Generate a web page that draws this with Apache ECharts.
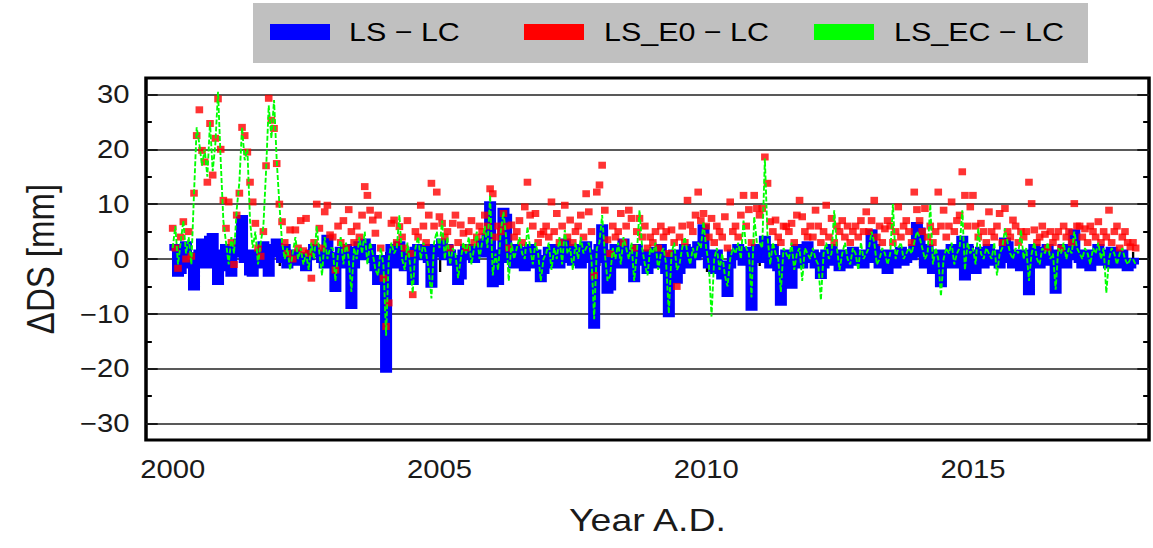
<!DOCTYPE html>
<html><head><meta charset="utf-8">
<script src="https://cdn.jsdelivr.net/npm/echarts@6/dist/echarts.min.js"></script>
<style>
html,body{margin:0;padding:0;background:#fff;overflow:hidden;width:1153px;height:548px}
#c{position:absolute;left:0;top:0;height:548px;transform-origin:0 0}
</style>
</head><body><div id="c"></div>
<script>
// sample times: T0 + i*DT (years A.D.)
const T0 = 2000, DT = 0.05;

// LS - LC (blue), one row per year, 20 samples per year
const lsLc = [
  1.5, 2, -2.5, -2, 1, 2.5, -1, 0.5, -5, -1, 1, 3, 2, -1, 3.5, 4, 0, -4, -1.5, 1,
  2, 0.5, -2.5, 1, 2, 3, 7.3, 0, 1, -2.3, -2.5, 0, 1, -1, 2.5, 0, -2.5, 1.5, 2, 3,
  1, 0, 2, -1, 0.5, 0, 1, -0.5, 0.5, 0, -1.5, 0.5, 1, 2, 1, 1, 0, -1, 3.7, 0.5,
  0.5, -5.3, -1, 1.5, 0, 2, -1, -8.4, -1, 1.5, 2.5, 0.5, 3, 1, 2, 0, -1.5, -4, 0, -1,
  -20, -1, 2, 1, -1, 2.5, 0.5, -1.5, 1, 0, -4, 1.5, 2, 0.5, 1, 2, 0, -4.5, 1, 2,
  1, 3, 0.5, 2, 1, -0.5, 0, -4, -3, 1, 2, 0.5, 1.5, 0, 2, 1, 3, 1, 4, 9.8,
  -4.4, -2, -4, 1, 8.6, 7.5, 0, 1, -1, 2, 0, 1.5, -1.5, 0.5, 2, -1, 1, 0, -3.5, -2,
  0, 1.5, -1, 2, 0.5, -1, 1, 3, 0, 1.5, -0.5, 2, 1, -1, 0.5, 2.5, 1, 0, -12, 1,
  2, 5.6, 0, -5.6, -5, 1, 2, -1, 0, 3, 1, -1, 0.5, -3.5, 2, -0.5, 1, 0, -2, 1,
  0, 1.5, -1, 2, 0.5, -2, -9.9, 0, 1, -3.8, -2, 1, 2, 0, -1, 1.5, 0.5, 2.5, 1, 5.6,
  1, -1, 0, -2, 1, -1, -3, -2, -6.2, -1, 1, 0.5, 2, 1, -0.5, 1.5, 0, -8.7, 0, 2,
  2, 0, 3.5, 1, -1, 2, 0, -1.5, -7.8, 0, 1, -0.5, -4.7, 0, 2, 0.5, -1, 1, 2.5, 0,
  1, -1, 0.5, -2.9, -1, 1, 0, 2, -0.5, 1, -1.5, 0.5, 1, -1, 0, 1.5, -0.5, 0, 1, -1,
  0, 1, 4.7, 2, 0, -1, 1, 0.5, -2, 0, 1, -1, 0.5, 1.5, -0.5, 0, 1, 0.5, 2, 6,
  5, 1, -1, 2, 0, -2, 1, 0.5, -4.4, -1, 1, 0, 2, -1, 0.5, 1, 3.5, -3.2, 2, 0,
  1, -2, 0.5, 1.5, -1, 0, 2, -0.5, 1, 0, -1, 1, 3.2, 2.5, 0, -1, 1, 0.5, -1.5, 0,
  1, -5.9, 0, 2, 1, -1, 1.5, 0, 2, -0.5, 0, -5.6, 1, 0, 2, -1, 0.5, 1, 4.7, 1,
  0, -1, 1, 0.5, -1.5, 1, 0, 2, -0.5, 1, 0, -1, 1.5, 0.5, -1, 0, 1, -0.5, -1.5, -1,
  -0.5, -1
];

// LS_E0 - LC (red squares)
const lsE0Lc = [
  5.6, 2, -1.7, 4, 6.8, 0, 5, 0.5, 12, 22.5, 27.2, 19.8, 17.7, 14, 24.7, 15.3, 22, 29.2, 20, 10.7,
  5.6, 10.4, 3, -1, 8, 12, 24, 22.5, 19.5, 14, 10.4, 6.5, 2, 0.5, 5, 17, 29.3, 25.3, 23.8, 17.4,
  10, 6.8, 3, 1, 5.3, 0, 5.3, 2, 7, 1.5, 7.4, 1, -3.5, 3, 10, 5.6, 2, 8.6, 9.8, 4.4,
  4, -2, 6, 3, 7, 2, 9, 5, 3, 6, 4, 8, 13.2, 11.6, 8.9, 7.1, 4.7, 8, 2, -3.5,
  -12.3, -8, 6.5, 7.1, 3, 5.9, 4, 2, 7, 1, -6.5, 5, 4, 9.8, 6, 3, 8, 13.8, 6, 12.2,
  7.7, 6.5, 4, 5, 2, 6.5, 8, 3, 6.2, 4.7, 2, 5, 7, 3, 4, 6, 5, 8, 6, 12.8,
  11.9, 4, 6, 5, 8.3, 6, 2, 6.2, 4, 5, 7, 3, 9.5, 14, 8, 6, 8.3, 3, 4.5, 5,
  6, 4, 10.4, 5, 8.3, 3, 6, 9.8, 4, 7.1, 3, 5, 6, 8, 4, 11.9, 8.6, 5, -3, 12.2,
  13.5, 17.1, 8.9, 3.5, 1, 6, 4, 5, 8.3, 3, 6, 8.9, 7.4, 2, 5, 7.4, 4, 6, 2, 4,
  3, 5, 2, 6, 4, 5, 1, 5.3, 3, -5, 4, 6, 3, 10.7, 6.2, 5, 8, 12.2, 7, 8.3,
  6, 4, 7.4, 3, 6, 5, 4, 7.7, 2, 10.4, 5, 6, 4, 8, 11.6, 6, 9, 3, 11.6, 9.2,
  8, 9.2, 18.6, 13.8, 6.8, 5, 7.1, 4, 3, 6, 5.9, 5, 6.5, 3, 8, 10.7, 7.7, 5, 4, 6,
  4, 8.9, 6, 3, 5, 9.8, 4, 7.4, 3, 6, 5, 7, 4, 6, 3, 5, 6, 4, 7, 5,
  8.6, 5, 7, 10.7, 4, 6, 3, 5.5, 7, 6, 3, 5, 9.5, 4, 6, 7, 5, 3, 12.2, 9,
  7, 5, 9.2, 4, 6, 3, 5, 12.2, 6, 8.9, 4, 6, 10.4, 5, 7, 8, 15.9, 11.6, 6, 9.5,
  11.6, 6, 4, 6.5, 5, 3, 8.6, 5, 4, 6, 8.3, 3, 9.2, 5, 4, 7.1, 6, 3, 5, 4,
  5, 14, 10.1, 5.3, 3, 4, 6, 4.5, 2, 5, 3, 4, 5, 2, 6, 4, 5, 3, 10.1, 6,
  6, 4, 5.5, 3, 6, 5, 4, 6.8, 3, 5, 4, 8.9, 3, 5, 6, 2, 4, 5, 3, 2.2,
  3, 2
];

// LS_EC - LC (green dashed)
const lsEcLc = [
  2, 6, -1, 3, 7, 1, 4, -1, 12, 24, 21, 17, 20, 15, 25, 16, 21, 30.5, 18, 7,
  3, -1, 4, 1, 9, 14, 24, 18, 20, 7, 2, 5, -1, 3, 6, 16, 28, 22, 29, 18,
  10, 3, 0, 2, -2, 1, 4, 0, 2, -1, 1, -2, 3, 0, 6, 1, -3, 4, 0, 2,
  2, -4, 1, 4, -1, 3, 0, -6, 2, 0, 4, 1, 5, -1, 3, 1, -2, -3, 2, -1,
  -14, 0, 3, 1, 2, 8, 0, -2, 3, -1, -6.2, 2, 4, 0, 3, 1, -2, -7.2, 3, 5,
  2, 7, 0, 4, -1, 2, 1, -3.5, 0, 3, 1, 4, -1, 2, 5, 0, 3, 6, 2, 11.6,
  -3, 1, -2, 5, 8.6, 4, -4, 3, 0, 2, 4, 1, 0, 5.9, 2, -1, 3, 1, -4, 0,
  1, 3, -2, 2, 0, 4, -1, 5.3, 1, 2, -2, 3, 0, 4, 1, 2, 3, 0, -11, 2,
  3, 8, 1, -4, -3, 2, 0, 3, -1, 4, 2, 0, 3, -4, 1, 8.9, 2, -1, -3, 2,
  1, 3, -2, 1, 2, -1, -9.9, 1, 3, -2, -1, 2, 4, 1, -1, 2, 0, 3, 2, 6.8,
  2, -1, -10.5, 0, 2, -2, 1, -3, -5, 0, 2, 1, 3, 0, 7, 2, 1, -7, 7.7, 3,
  3, 2, 18.3, 4, -1, 3, 1, 0, -6, 2, 1, 0, 3, -2, 1, 2, -4, 2, 1, 0,
  2, 0, -1, -7.5, 1, 3, 0, 1, 8.9, 2, -2, 1, 3, 0, -1, 2, 1, -2, 3, 0,
  1, 2, 5, 3, -1, 0, 2, 1, -1, 1, 10, 0, 2, 3, 0, 1, 2, 1, 3, 5,
  4, 2, 0, 1, 10, -1, 2, 0, -6.8, 0, 2, 1, 3, -1, 1, 2, 8.9, -2, 3, 1,
  2, -1, 5.6, 1, 0, 2, 1, 0, 3, -3, 1, 2, 5.6, 3, 1, 0, 2, 1, 5.3, 0,
  2, -4, 1, 3, 0, -1, 2, 1, 3, 0, 1, -5.6, 2, 1, 3, 0, 2, 1, 5, 2,
  1, 0, 2, 1, -1, 2, 1, 3, 0, 2, -6.2, 0, 2, 1, -1, 1, 2, 0, -1, 0,
  0, -1
];

const seriesNames = ['LS \u2212 LC', 'LS_E0 \u2212 LC', 'LS_EC \u2212 LC'];
const seriesColors = ['#0000ff', '#ff0000', '#00ff00'];
const xMajor = [2000, 2005, 2010, 2015];
const xMinor = [2001, 2002, 2003, 2004, 2006, 2007, 2008, 2009, 2011, 2012, 2013, 2014, 2016, 2017, 2018];
const yMajor = [-30, -20, -10, 0, 10, 20, 30];
const yMinor = [-25, -15, -5, 5, 15, 25];

// the reference picture is horizontally stretched; draw narrower and scale
const W = 985;
const sx = 1153 / W;
const el = document.getElementById('c');
el.style.width = W + 'px';
el.style.transform = 'scaleX(' + sx + ')';
const X = v => v / sx;

const pairs = arr => arr.map((v, i) => [+(T0 + i * DT).toFixed(2), v]);

const FONT = '"Liberation Sans", Arial, sans-serif';
const TXT = '#1a1a1a';
const tickStyle = { color: '#000', width: 2 };

function xAx(pos, ticks, len, withLabel) {
  const a = {
    type: 'value', min: 1999.5, max: 2018.3, position: pos,
    axisLine: { show: false }, splitLine: { show: false },
    axisTick: { show: true, inside: true, length: len, customValues: ticks, lineStyle: tickStyle },
    axisLabel: { show: false }
  };
  if (withLabel) {
    a.axisLabel = { show: true, customValues: ticks, formatter: v => String(v),
      fontSize: 25, fontFamily: FONT, color: TXT, margin: 17 };
    a.name = 'Year A.D.'; a.nameLocation = 'middle'; a.nameGap = 64;
    a.nameTextStyle = { fontSize: 32, fontFamily: FONT, color: TXT };
  }
  return a;
}
function yAx(pos, ticks, len, withLabel) {
  const a = {
    type: 'value', min: -33, max: 33, position: pos,
    axisLine: { show: false }, splitLine: { show: false },
    axisTick: { show: true, inside: true, length: len, customValues: ticks, lineStyle: tickStyle },
    axisLabel: { show: false }
  };
  if (withLabel) {
    a.axisLabel = { show: true, customValues: ticks, formatter: v => String(v).replace('-', '\u2212'),
      fontSize: 25, fontFamily: FONT, color: TXT, margin: 14 };
    a.name = '\u0394DS [mm]'; a.nameLocation = 'middle'; a.nameGap = 74;
    a.nameTextStyle = { fontSize: 33, fontFamily: FONT, color: TXT };
  }
  return a;
}

const legendItems = [
  { rx: 270, tx: 349 }, { rx: 524, tx: 604 }, { rx: 814, tx: 894 }
];
const graphic = [{ type: 'rect', silent: true, z: 10,
  shape: { x: X(253), y: 3, width: X(1088) - X(253), height: 60 }, style: { fill: '#c0c0c0' } }];
legendItems.forEach((it, k) => {
  graphic.push({ type: 'rect', silent: true, z: 11,
    shape: { x: X(it.rx), y: 24, width: X(60), height: 16 }, style: { fill: seriesColors[k] } });
  graphic.push({ type: 'text', silent: true, z: 11, x: X(it.tx), y: 32,
    style: { text: seriesNames[k], fontSize: 26, fontFamily: FONT, fill: '#000', verticalAlign: 'middle' } });
});

const chart = echarts.init(el, null, { renderer: 'svg', width: W, height: 548 });
chart.setOption({
  animation: false,
  backgroundColor: '#fff',
  grid: { left: X(146), right: W - X(1149), top: 78, bottom: 108,
    show: true, borderColor: '#000', borderWidth: 3, backgroundColor: '#fff' },
  xAxis: [xAx('bottom', xMajor, 13, true), xAx('bottom', xMinor, 7, false),
          xAx('top', xMajor, 13, false), xAx('top', xMinor, 7, false)],
  yAxis: [yAx('left', yMajor, 10, true), yAx('left', yMinor, 5, false),
          yAx('right', yMajor, 10, false), yAx('right', yMinor, 5, false)],
  graphic: graphic,
  series: [
    { name: seriesNames[0], type: 'line', data: pairs(lsLc), symbol: 'none', z: 2, step: 'middle',
      lineStyle: { color: seriesColors[0], width: 8, join: 'miter', cap: 'butt' },
      itemStyle: { color: seriesColors[0] }, emphasis: { disabled: true },
      markLine: { silent: true, z: 1, symbol: ['none', 'none'], label: { show: false },
        emphasis: { disabled: true },
        lineStyle: { color: '#222', width: 1.5, type: 'solid' },
        data: yMajor.map(v => ({ yAxis: v })) } },
    { name: seriesNames[1], type: 'scatter', data: pairs(lsE0Lc), symbol: 'rect', symbolSize: [6.5, 7], z: 3,
      itemStyle: { color: seriesColors[1] }, emphasis: { disabled: true } },
    { name: seriesNames[2], type: 'line', data: pairs(lsEcLc), symbol: 'none', z: 4,
      lineStyle: { color: seriesColors[2], width: 1.6, type: [5, 2] },
      itemStyle: { color: seriesColors[2] }, emphasis: { disabled: true } }
  ]
});
</script>
</body></html>
